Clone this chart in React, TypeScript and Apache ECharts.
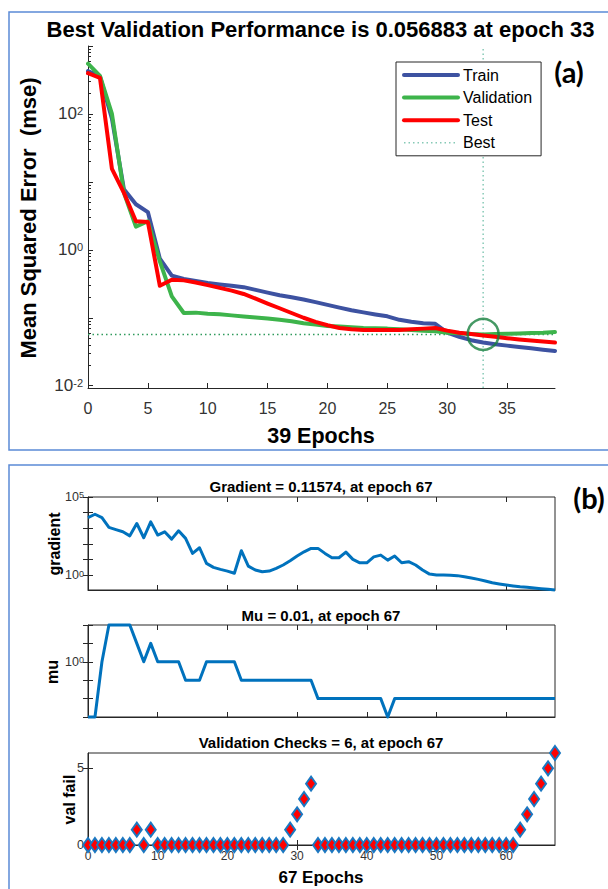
import React, { useEffect, useRef } from 'react';
import * as echarts from 'echarts';

// ---------- data: panel (a) performance ----------
const perfEpochs = [0,1,2,3,4,5,6,7,8,9,10,11,12,13,14,15,16,17,18,19,20,21,22,23,24,25,26,27,28,29,30,31,32,33,34,35,36,37,38,39];
const trainPerf = [427, 355, 85.1, 7.76, 4.68, 3.59, 0.741, 0.417, 0.372, 0.347, 0.324, 0.309, 0.295, 0.282, 0.257, 0.234, 0.214, 0.2, 0.186, 0.17, 0.155, 0.141, 0.129, 0.12, 0.112, 0.105, 0.0933, 0.0871, 0.0832, 0.0813, 0.0603, 0.0525, 0.0468, 0.0432, 0.0407, 0.0389, 0.0372, 0.0355, 0.0339, 0.0324];
const valPerf = [550, 363, 100, 6.92, 2.19, 2.63, 0.676, 0.2065, 0.1175, 0.119, 0.1148, 0.1122, 0.1084, 0.1047, 0.1012, 0.0977, 0.0933, 0.0891, 0.0832, 0.0794, 0.0759, 0.0741, 0.0724, 0.0708, 0.07, 0.0692, 0.0676, 0.0661, 0.0646, 0.0631, 0.0603, 0.0589, 0.0575, 0.056883, 0.0575, 0.0582, 0.0589, 0.0596, 0.0603, 0.0617];
const testPerf = [398, 339, 15.5, 6.9, 2.63, 2.57, 0.295, 0.363, 0.355, 0.331, 0.302, 0.275, 0.251, 0.224, 0.191, 0.162, 0.138, 0.1175, 0.1, 0.0871, 0.0776, 0.0708, 0.0676, 0.0661, 0.0661, 0.0661, 0.0661, 0.0676, 0.0692, 0.0708, 0.0646, 0.0603, 0.0575, 0.055, 0.0525, 0.0501, 0.0479, 0.0462, 0.0447, 0.0432];
const bestEpoch = 33;
const bestPerf = 0.056883;
const perfXTicks = [0, 5, 10, 15, 20, 25, 30, 35];
const perfYMajor = [0.01, 0.1, 1, 10, 100, 1000];
const perfYLabels = [0.01, 1, 100];
const perfYMinor = [0.02,0.03,0.04,0.05,0.06,0.07,0.08,0.09,0.2,0.3,0.4,0.5,0.6,0.7,0.8,0.9,2,3,4,5,6,7,8,9,20,30,40,50,60,70,80,90,200,300,400,500,600,700,800,900];

// ---------- data: panel (b) training state ----------
const stateEpochs = [0,1,2,3,4,5,6,7,8,9,10,11,12,13,14,15,16,17,18,19,20,21,22,23,24,25,26,27,28,29,30,31,32,33,34,35,36,37,38,39,40,41,42,43,44,45,46,47,48,49,50,51,52,53,54,55,56,57,58,59,60,61,62,63,64,65,66,67];
const gradientVals = [4898, 7943, 4898, 1148, 832, 603, 331, 2042, 251, 2570, 372, 603, 204, 692, 229, 25.1, 57.5, 5.75, 3.24, 2.4, 1.86, 1.35, 37.2, 3.89, 2.19, 1.7, 1.86, 2.82, 4.57, 8.51, 17, 31.6, 52.5, 52.5, 25.1, 13.2, 13.2, 30.2, 10.5, 6.31, 6.31, 15.1, 19.5, 9.33, 17, 6.31, 7.41, 4.57, 2.19, 1.2, 1.05, 1.05, 1, 0.955, 0.813, 0.676, 0.55, 0.437, 0.339, 0.282, 0.24, 0.209, 0.186, 0.174, 0.155, 0.141, 0.129, 0.11574];
const muVals = [0.001, 0.001, 1, 100, 100, 100, 100, 10, 1, 10, 1, 1, 1, 1, 0.1, 0.1, 0.1, 1, 1, 1, 1, 1, 0.1, 0.1, 0.1, 0.1, 0.1, 0.1, 0.1, 0.1, 0.1, 0.1, 0.1, 0.01, 0.01, 0.01, 0.01, 0.01, 0.01, 0.01, 0.01, 0.01, 0.01, 0.001, 0.01, 0.01, 0.01, 0.01, 0.01, 0.01, 0.01, 0.01, 0.01, 0.01, 0.01, 0.01, 0.01, 0.01, 0.01, 0.01, 0.01, 0.01, 0.01, 0.01, 0.01, 0.01, 0.01, 0.01];
const valFailVals = [0, 0, 0, 0, 0, 0, 0, 1, 0, 1, 0, 0, 0, 0, 0, 0, 0, 0, 0, 0, 0, 0, 0, 0, 0, 0, 0, 0, 0, 1, 2, 3, 4, 0, 0, 0, 0, 0, 0, 0, 0, 0, 0, 0, 0, 0, 0, 0, 0, 0, 0, 0, 0, 0, 0, 0, 0, 0, 0, 0, 0, 0, 1, 2, 3, 4, 5, 6];
const stateXTicks = [0, 10, 20, 30, 40, 50, 60];
const gradYTicks = [1, 10, 100, 1000, 10000, 100000];
const gradYLabels = [1, 100000];
const muYTicks = [0.001, 0.01, 0.1, 1, 10, 100];
const muYLabels = [1];
const valYTicks = [0, 5];

const FONT = '"Liberation Sans", Arial, Helvetica, sans-serif';
const AX = '#262626';
const TICKTXT = '#333333';

function supLabels(base: number, sup: number, raise: number, margin: number, values: number[]) {
  return {
    customValues: values,
    margin,
    formatter: (v: number) => `{b|10}{s|${Math.round(Math.log10(v))}}`,
    rich: {
      b: { fontSize: base, lineHeight: base, verticalAlign: 'bottom', fontFamily: FONT, color: TICKTXT },
      s: { fontSize: sup, lineHeight: sup, verticalAlign: 'top', padding: [0, 0, raise, 0], fontFamily: FONT, color: TICKTXT },
    },
  };
}

function tickAxis(extra: any) {
  return {
    splitLine: { show: false },
    axisLine: { show: false },
    axisLabel: { show: false },
    ...extra,
  };
}

export default function App() {
  const ref = useRef<HTMLDivElement>(null);
  useEffect(() => {
    if (!ref.current) return;
    const chart = echarts.init(ref.current, undefined, { renderer: 'svg' });
    const tickStyle = { lineStyle: { color: AX, width: 1 } };
    const lineAx = { lineStyle: { color: AX, width: 1 } };

    const grids = [
      { left: 88, top: 46, width: 467, height: 342 },
      { left: 88, top: 497, width: 467, height: 93, show: true, borderColor: AX, borderWidth: 1 },
      { left: 88, top: 625, width: 467, height: 92, show: true, borderColor: AX, borderWidth: 1 },
      { left: 88, top: 753, width: 467, height: 92, show: true, borderColor: AX, borderWidth: 1 },
    ];

    const xAxes: any[] = [
      {
        gridIndex: 0, type: 'value', min: 0, max: 39,
        axisLine: lineAx, splitLine: { show: false },
        axisTick: { inside: true, length: 5, customValues: perfXTicks, ...tickStyle },
        axisLabel: { customValues: perfXTicks, fontSize: 16, fontFamily: FONT, color: TICKTXT, margin: 12 },
      },
    ];
    for (let g = 1; g <= 3; g++) {
      xAxes.push({
        gridIndex: g, type: 'value', min: 0, max: 67, position: 'bottom',
        axisLine: lineAx, splitLine: { show: false },
        axisTick: { inside: true, length: 5, customValues: stateXTicks, ...tickStyle },
        axisLabel: g === 3
          ? { customValues: stateXTicks, fontSize: 12, fontFamily: FONT, color: TICKTXT, margin: 5 }
          : { show: false },
      });
      xAxes.push(tickAxis({
        gridIndex: g, type: 'value', min: 0, max: 67, position: 'top',
        axisTick: { inside: true, length: 5, customValues: stateXTicks, ...tickStyle },
      }));
    }

    const yAxes: any[] = [
      {
        gridIndex: 0, type: 'log', logBase: 10, min: 0.00925, max: 1000,
        axisLine: { show: true, ...lineAx }, splitLine: { show: false }, minorTick: { show: false },
        axisTick: { inside: true, length: 5, customValues: perfYMajor, ...tickStyle },
        axisLabel: supLabels(17, 11, 9, 5, perfYLabels),
      },
      tickAxis({
        gridIndex: 0, type: 'log', logBase: 10, min: 0.00925, max: 1000, position: 'left',
        axisTick: { inside: true, length: 3, customValues: perfYMinor, ...tickStyle },
      }),
      {
        gridIndex: 1, type: 'log', logBase: 10, min: 0.11574, max: 100000, position: 'left',
        axisLine: { show: true, ...lineAx }, splitLine: { show: false },
        axisTick: { inside: true, length: 5, customValues: gradYTicks, ...tickStyle },
        axisLabel: supLabels(12.5, 9, 6, 4, gradYLabels),
      },
      tickAxis({
        gridIndex: 1, type: 'log', logBase: 10, min: 0.11574, max: 100000, position: 'right',
        axisTick: { inside: true, length: 5, customValues: gradYTicks, ...tickStyle },
      }),
      {
        gridIndex: 2, type: 'log', logBase: 10, min: 0.001, max: 100, position: 'left',
        axisLine: { show: true, ...lineAx }, splitLine: { show: false },
        axisTick: { inside: true, length: 5, customValues: muYTicks, ...tickStyle },
        axisLabel: supLabels(12.5, 9, 6, 4, muYLabels),
      },
      tickAxis({
        gridIndex: 2, type: 'log', logBase: 10, min: 0.001, max: 100, position: 'right',
        axisTick: { inside: true, length: 5, customValues: muYTicks, ...tickStyle },
      }),
      {
        gridIndex: 3, type: 'value', min: 0, max: 6, position: 'left',
        axisLine: { show: true, ...lineAx }, splitLine: { show: false },
        axisTick: { inside: true, length: 5, customValues: valYTicks, ...tickStyle },
        axisLabel: { customValues: valYTicks, fontSize: 12.5, fontFamily: FONT, color: TICKTXT, margin: 4 },
      },
      tickAxis({
        gridIndex: 3, type: 'value', min: 0, max: 6, position: 'right',
        axisTick: { inside: true, length: 5, customValues: valYTicks, ...tickStyle },
      }),
    ];

    const perfLine = (name: string, vals: number[], color: string, z: number) => ({
      name, type: 'line', xAxisIndex: 0, yAxisIndex: 0, z,
      data: perfEpochs.map((e, i) => [e, vals[i]]),
      symbol: 'none', showSymbol: false, clip: false,
      lineStyle: { color, width: 4, join: 'round', cap: 'round' },
      itemStyle: { color },
    });

    const text = (t: string, x: number, y: number, size: number, opts: any = {}) => ({
      type: 'text', x, y, rotation: opts.rotation || 0, z: 100,
      style: {
        text: t, fontSize: size, fontWeight: 'bold', fontFamily: opts.family || FONT,
        fill: '#000', textAlign: 'center', textVerticalAlign: 'middle',
      },
    });

    const option: any = {
      animation: false,
      backgroundColor: '#ffffff',
      grid: grids,
      xAxis: xAxes,
      yAxis: yAxes,
      legend: {
        orient: 'vertical', left: 396, top: 62,
        data: [
          { name: 'Train', lineStyle: { width: 4 } },
          { name: 'Validation', lineStyle: { width: 4 } },
          { name: 'Test', lineStyle: { width: 4 } },
          { name: 'Best', lineStyle: { width: 1.5 } },
        ],
        selectedMode: false,
        itemWidth: 54, itemHeight: 14, itemGap: 4.6,
        padding: [4, 9, 4, 6],
        itemStyle: { opacity: 0, borderWidth: 0 },
        backgroundColor: '#ffffff', borderColor: AX, borderWidth: 1, borderRadius: 0,
        textStyle: { fontSize: 16, fontFamily: FONT, color: '#000', lineHeight: 18 },
        z: 50,
      },
      series: [
        {
          name: 'Best', type: 'line', xAxisIndex: 0, yAxisIndex: 0, z: 1,
          data: [[bestEpoch, 0.00925], [bestEpoch, 1000]],
          symbol: 'none', showSymbol: false,
          lineStyle: { color: '#86c9b6', width: 1.5, type: [1.5, 3] },
          itemStyle: { color: '#86c9b6' },
        },
        {
          name: 'bestLevel', type: 'line', xAxisIndex: 0, yAxisIndex: 0, z: 1,
          data: [[0, bestPerf], [39, bestPerf]],
          symbol: 'none', showSymbol: false,
          lineStyle: { color: '#2f9a5c', width: 1.5, type: [1.5, 3] },
        },
        perfLine('Train', trainPerf, '#3d52a1', 2),
        perfLine('Validation', valPerf, '#3db44b', 3),
        perfLine('Test', testPerf, '#ff0000', 4),
        {
          name: 'bestPoint', type: 'scatter', xAxisIndex: 0, yAxisIndex: 0, z: 6,
          data: [[bestEpoch, bestPerf]],
          symbol: 'circle', symbolSize: 31,
          itemStyle: { color: 'rgba(0,0,0,0)', borderColor: '#17803d', borderWidth: 2.5 },
        },
        {
          name: 'gradient', type: 'line', xAxisIndex: 1, yAxisIndex: 2,
          data: stateEpochs.map((e, i) => [e, gradientVals[i]]),
          symbol: 'none', showSymbol: false, clip: false,
          lineStyle: { color: '#0072bd', width: 3, join: 'round' },
        },
        {
          name: 'mu', type: 'line', xAxisIndex: 3, yAxisIndex: 4,
          data: stateEpochs.map((e, i) => [e, muVals[i]]),
          symbol: 'none', showSymbol: false, clip: false,
          lineStyle: { color: '#0072bd', width: 3, join: 'round' },
        },
        {
          name: 'val fail', type: 'scatter', xAxisIndex: 5, yAxisIndex: 6, clip: false,
          data: stateEpochs.map((e, i) => [e, valFailVals[i]]),
          symbol: 'diamond', symbolSize: [10, 14],
          itemStyle: { color: '#ff0000', borderColor: '#1a78c2', borderWidth: 2, opacity: 1 },
        },
      ],
      graphic: [
        { type: 'rect', z: 0, shape: { x: 9, y: 12, width: 620, height: 438 }, style: { fill: 'none', stroke: '#5b8bd6', lineWidth: 1.5 } },
        { type: 'rect', z: 0, shape: { x: 9, y: 465, width: 620, height: 500 }, style: { fill: 'none', stroke: '#5b8bd6', lineWidth: 1.5 } },
        text('Best Validation Performance is 0.056883 at epoch 33', 320.5, 29.5, 22),
        text('(a)', 569, 71, 29, { family: 'Lato, "Open Sans", sans-serif' }),
        text('Mean Squared Error  (mse)', 28, 218, 22, { rotation: Math.PI / 2 }),
        text('39 Epochs', 321, 436, 21.5),
        text('(b)', 589, 497, 29, { family: 'Lato, "Open Sans", sans-serif' }),
        text('Gradient = 0.11574, at epoch 67', 321, 486, 15),
        text('Mu = 0.01, at epoch 67', 321, 615, 15),
        text('Validation Checks = 6, at epoch 67', 321, 742.5, 15),
        text('67 Epochs', 321, 877.5, 17),
        text('gradient', 54, 544, 16, { rotation: Math.PI / 2 }),
        text('mu', 52, 672, 16, { rotation: Math.PI / 2 }),
        text('val fail', 69, 799.5, 16, { rotation: Math.PI / 2 }),
      ],
    };
    chart.setOption(option);
    return () => chart.dispose();
  }, []);
  return <div ref={ref} style={{ position: 'absolute', left: 0, top: 0, width: 608, height: 889 }} />;
}
